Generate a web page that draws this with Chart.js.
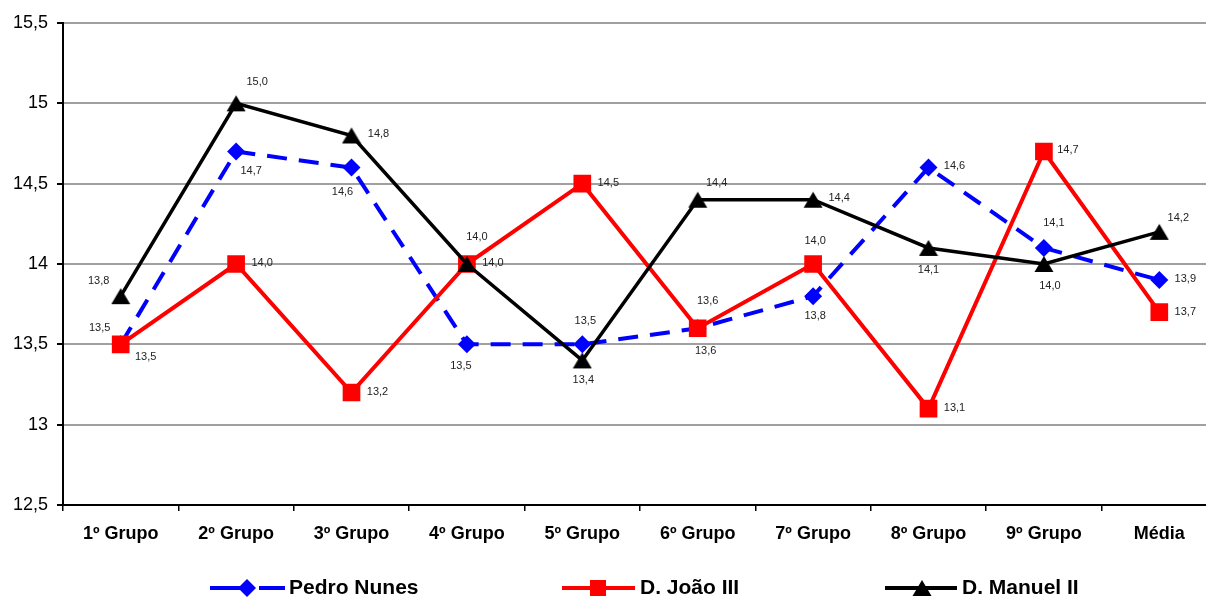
<!DOCTYPE html>
<html>
<head>
<meta charset="utf-8">
<script src="https://cdn.jsdelivr.net/npm/chart.js@4/dist/chart.umd.min.js"></script>
<style>
html,body{margin:0;padding:0;background:#fff;overflow:hidden;width:1206px;height:598px;}
canvas{display:block;}
</style>
</head>
<body>
<canvas id="c" width="1240" height="598"></canvas>
<script>
const categories = ['1º Grupo','2º Grupo','3º Grupo','4º Grupo','5º Grupo','6º Grupo','7º Grupo','8º Grupo','9º Grupo','Média'];
const pedroNunes = [13.5, 14.7, 14.6, 13.5, 13.5, 13.6, 13.8, 14.6, 14.1, 13.9];
const djoaoIII   = [13.5, 14.0, 13.2, 14.0, 14.5, 13.6, 14.0, 13.1, 14.7, 13.7];
const dmanuelII  = [13.8, 15.0, 14.8, 14.0, 13.4, 14.4, 14.4, 14.1, 14.0, 14.2];
const seriesNames = ['Pedro Nunes', 'D. João III', 'D. Manuel II'];
const yTickValues = [12.5, 13, 13.5, 14, 14.5, 15, 15.5];
const yTickLabels = ['12,5', '13', '13,5', '14', '14,5', '15', '15,5'];

// label placement offsets (styling, not data)
const labelOffsets = [
  [[-21,-16],[15,19],[-9,24],[-6,22],[3,-23],[8,23],[2,20],[26,-2],[10,-25],[26,-1]],
  [[25,13],[26,-1],[26,-1],[10,-27],[26,-1],[10,-27],[2,-23],[26,-1],[24,-2],[26,0]],
  [[-22,-15],[21,-21],[27,-1],[26,-1],[1,20],[19,-17],[26,-2],[0,22],[6,22],[19,-14]]
];

const FONT = '"Liberation Sans", Arial, sans-serif';

// centred triangle marker
const tri = document.createElement('canvas');
tri.width = 20; tri.height = 20;
(function(){
  const t = tri.getContext('2d');
  t.fillStyle = '#000';
  t.beginPath(); t.moveTo(10, 2); t.lineTo(19.5, 18); t.lineTo(0.5, 18); t.closePath(); t.fill();
})();

const dataLabels = {
  id: 'dataLabels',
  afterDatasetsDraw(chart) {
    const ctx = chart.ctx;
    ctx.save();
    ctx.font = '11px ' + FONT;
    ctx.fillStyle = '#222';
    ctx.textAlign = 'center';
    ctx.textBaseline = 'middle';
    chart.data.datasets.forEach((ds, di) => {
      const meta = chart.getDatasetMeta(di);
      meta.data.forEach((pt, i) => {
        const off = labelOffsets[di][i];
        const txt = ds.data[i].toFixed(1).replace('.', ',');
        ctx.fillText(txt, pt.x + off[0], pt.y + off[1]);
      });
    });
    ctx.restore();
  }
};

const customLegend = {
  id: 'customLegend',
  afterDraw(chart) {
    const ctx = chart.ctx;
    const y = 588;
    ctx.save();
    ctx.font = 'bold 21px ' + FONT;
    ctx.textBaseline = 'middle';
    ctx.textAlign = 'left';
    // Pedro Nunes
    ctx.strokeStyle = '#0000ff'; ctx.lineWidth = 4;
    ctx.beginPath(); ctx.moveTo(210, y); ctx.lineTo(247, y); ctx.moveTo(259, y); ctx.lineTo(285, y); ctx.stroke();
    ctx.fillStyle = '#0000ff';
    ctx.beginPath(); ctx.moveTo(247, y-9); ctx.lineTo(256, y); ctx.lineTo(247, y+9); ctx.lineTo(238, y); ctx.closePath(); ctx.fill();
    ctx.fillStyle = '#000';
    ctx.fillText(seriesNames[0], 289, y);
    // D. João III
    ctx.strokeStyle = '#ff0000';
    ctx.beginPath(); ctx.moveTo(562, y); ctx.lineTo(635, y); ctx.stroke();
    ctx.fillStyle = '#ff0000';
    ctx.fillRect(590, y-8, 16, 16);
    ctx.fillStyle = '#000';
    ctx.fillText(seriesNames[1], 640, y);
    // D. Manuel II
    ctx.strokeStyle = '#000';
    ctx.beginPath(); ctx.moveTo(885, y); ctx.lineTo(957, y); ctx.stroke();
    ctx.drawImage(tri, 912, y - 10);
    ctx.fillStyle = '#000';
    ctx.fillText(seriesNames[2], 962, y);
    ctx.restore();
  }
};

new Chart(document.getElementById('c'), {
  type: 'line',
  data: {
    labels: categories,
    datasets: [
      {
        label: seriesNames[0], data: pedroNunes, order: 3,
        borderColor: '#0000ff', backgroundColor: '#0000ff', borderWidth: 4,
        borderDash: [20, 12], tension: 0,
        pointStyle: 'rectRot', pointRadius: 9, pointBorderWidth: 0, pointBackgroundColor: '#0000ff'
      },
      {
        label: seriesNames[1], data: djoaoIII, order: 2,
        borderColor: '#ff0000', backgroundColor: '#ff0000', borderWidth: 4, tension: 0,
        pointStyle: 'rect', pointRadius: 12.5, pointBorderWidth: 0, pointBackgroundColor: '#ff0000'
      },
      {
        label: seriesNames[2], data: dmanuelII, order: 1,
        borderColor: '#000000', backgroundColor: '#000000', borderWidth: 3.5, tension: 0,
        pointStyle: tri, pointRadius: 10, pointBorderWidth: 0, pointBackgroundColor: '#000000'
      }
    ]
  },
  options: {
    responsive: false,
    animation: false,
    layout: { padding: { left: 0, right: 23, top: 23, bottom: 0 } },
    plugins: { legend: { display: false }, tooltip: { enabled: false } },
    scales: {
      x: {
        type: 'category',
        offset: true,
        afterFit(s) { s.height = 93; },
        border: { display: true, color: '#000', width: 2 },
        grid: { display: true, drawOnChartArea: false, offset: true, tickLength: 6, color: '#000', lineWidth: 1.5 },
        ticks: { color: '#000', padding: 12, maxRotation: 0, autoSkip: false, font: { family: FONT, size: 18, weight: 'bold' } }
      },
      y: {
        min: 12.5, max: 15.5,
        afterFit(s) { s.width = 63; },
        afterBuildTicks(s) { s.ticks = yTickValues.map(v => ({ value: v })); },
        border: { display: true, color: '#000', width: 2 },
        grid: { color: '#a0a0a0', lineWidth: 2, tickColor: '#000', tickLength: 6 },
        ticks: {
          color: '#000', padding: 9,
          font: { family: FONT, size: 18 },
          callback: (v) => { const i = yTickValues.indexOf(v); return i >= 0 ? yTickLabels[i] : ''; }
        }
      }
    }
  },
  plugins: [dataLabels, customLegend]
});
</script>
</body>
</html>
